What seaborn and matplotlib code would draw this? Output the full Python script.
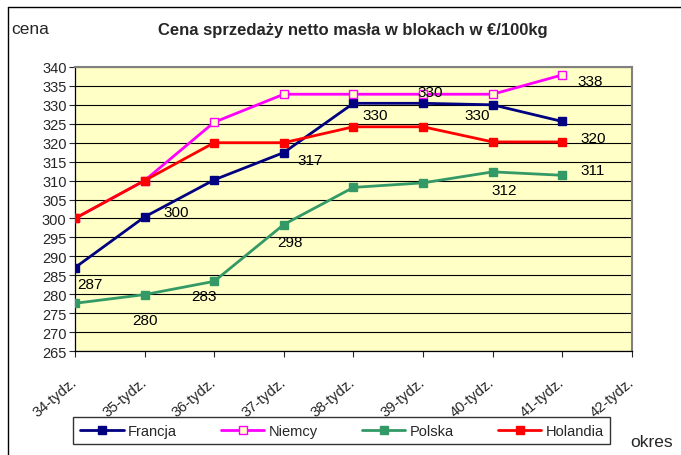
import numpy as np
import pandas as pd
import matplotlib
matplotlib.use("Agg")
import matplotlib.pyplot as plt
import seaborn as sns
from matplotlib.lines import Line2D

weeks = ["34-tydz.", "35-tydz.", "36-tydz.", "37-tydz.", "38-tydz.",
         "39-tydz.", "40-tydz.", "41-tydz.", "42-tydz."]

francja = [287, 300.4, 310.2, 317.4, 330.4, 330.4, 330.0, 325.6]
niemcy = [300, 310, 325.4, 332.8, 332.8, 332.8, 332.8, 337.9]
polska = [277.6, 279.9, 283.4, 298.4, 308.2, 309.4, 312.3, 311.4]
holandia = [300, 310, 320, 320, 324.2, 324.2, 320.2, 320.2]

series = {
    "Francja": francja,
    "Niemcy": niemcy,
    "Polska": polska,
    "Holandia": holandia,
}
colors = {
    "Francja": "#000080",
    "Niemcy": "#FF00FF",
    "Polska": "#339966",
    "Holandia": "#FF0000",
}

# data labels: (series, week index, offset in pixels)
labels = [
    ("Francja", 0, (15, -16)),
    ("Francja", 1, (32, 5)),
    ("Francja", 3, (26, -7)),
    ("Francja", 4, (22, -12)),
    ("Francja", 5, (7, 11)),
    ("Francja", 6, (-16, -10)),
    ("Niemcy", 7, (28, -6)),
    ("Holandia", 7, (31, 4)),
    ("Polska", 1, (0, -25)),
    ("Polska", 2, (-10, -15)),
    ("Polska", 3, (6, -17)),
    ("Polska", 6, (11, -18)),
    ("Polska", 7, (30, 5)),
]

sns.set_style("white")
plt.rcParams["font.family"] = ["Liberation Sans", "DejaVu Sans"]

fig = plt.figure(figsize=(6.81, 4.56), dpi=100)
ax = fig.add_axes([0.110, 0.228, 0.818, 0.623])
ax.set_facecolor("#FFFFC6")

for name, vals in series.items():
    df = pd.DataFrame({"x": np.arange(len(vals)), "y": vals})
    face = "#FFFFC6" if name == "Niemcy" else colors[name]
    sns.lineplot(data=df, x="x", y="y", ax=ax, color=colors[name],
                 linewidth=2.0, marker="s", markersize=5.8,
                 markerfacecolor=face, markeredgecolor=colors[name],
                 markeredgewidth=1.0, label=name, zorder=3)

for name, i, (dx, dy) in labels:
    v = series[name][i]
    ax.annotate(f"{v:.0f}", (i, v), xytext=(dx, dy), textcoords="offset pixels",
                ha="center", va="center", fontsize=11, color="black", zorder=4)

ax.set_xlim(0, len(weeks) - 1)
ax.set_ylim(265, 340)
ax.set_yticks(np.arange(265, 341, 5))
ax.set_xticks(np.arange(len(weeks)))
ax.set_xticklabels(weeks, rotation=40, ha="right", va="center",
                   rotation_mode="anchor", fontsize=10.5)
ax.tick_params(axis="y", labelsize=10.5, length=4, width=0.8, direction="out",
               left=True, pad=2)
ax.tick_params(axis="x", length=4, width=0.8, direction="out", bottom=True, pad=17)
ax.grid(axis="y", color="black", linewidth=0.8)
ax.set_axisbelow(True)
ax.set_xlabel("")
ax.set_ylabel("")

for side in ["left", "bottom"]:
    ax.spines[side].set_color("black")
    ax.spines[side].set_linewidth(0.9)
for side in ["top", "right"]:
    ax.spines[side].set_color("#808080")
    ax.spines[side].set_linewidth(1.5)

ax.get_legend().remove()
handles, names = ax.get_legend_handles_labels()
leg = fig.legend(handles, names, loc="center", bbox_to_anchor=(0.502, 0.053),
                 ncol=4, frameon=True, fancybox=False, fontsize=10.5,
                 handlelength=3.0, columnspacing=3.0, handletextpad=0.3,
                 borderpad=0.45, edgecolor="black")
leg.get_frame().set_linewidth(1.0)

fig.text(0.518, 0.933, "Cena sprzedaży netto masła w blokach w €/100kg",
         ha="center", va="center", fontsize=12, fontweight="bold")
fig.text(0.016, 0.935, "cena", ha="left", va="center", fontsize=12.5)
fig.text(0.925, 0.030, "okres", ha="left", va="center", fontsize=12.5)

fig.add_artist(Line2D([0.012, 0.012], [0.0, 0.982], transform=fig.transFigure,
                      color="black", linewidth=1.0))
fig.add_artist(Line2D([0.012, 1.0], [0.982, 0.982], transform=fig.transFigure,
                      color="black", linewidth=1.0))

fig.savefig("out.png", dpi=100)
